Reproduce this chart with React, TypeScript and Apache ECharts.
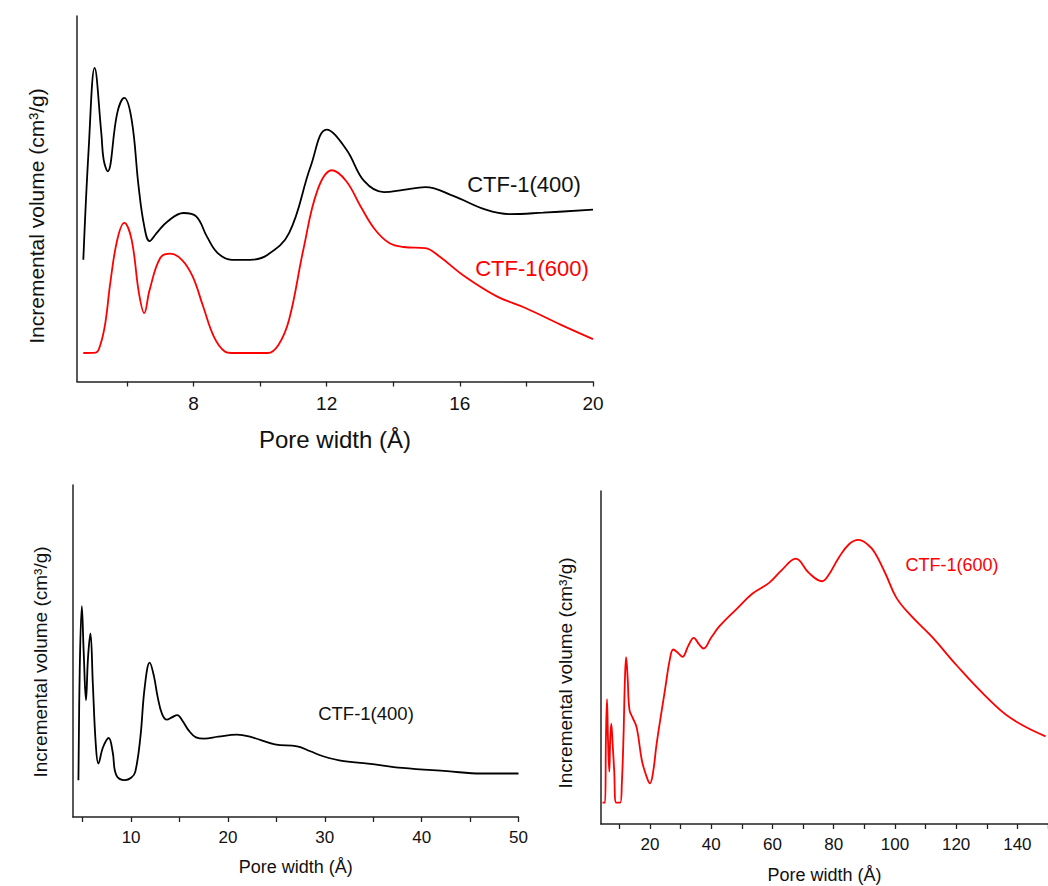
import React, { useEffect, useRef } from "react";
import * as echarts from "echarts";

// ---- Data (pore width in Å, incremental volume in arbitrary units 0-100) ----
const topCtf400: [number, number][] = [
  [4.69, 33.3], [4.85, 63.5], [5.03, 85.8], [5.23, 68], [5.3, 60.7], [5.42, 57.5],
  [5.71, 73.5], [5.92, 77.6], [6.14, 71.7], [6.35, 53.4], [6.52, 42.5], [6.68, 38.4],
  [6.89, 40.6], [7.22, 43.8], [7.7, 46.1], [8.08, 45.2], [8.4, 39.7], [8.72, 35.2],
  [9.15, 33.3], [9.7, 33.3], [10.23, 34.7], [10.87, 40.6], [11.52, 58.9], [12.0, 68.9],
  [12.59, 63.5], [13.13, 54.8], [13.72, 51.8], [14.3, 52.4], [14.96, 53.2], [15.82, 50.7],
  [16.78, 47.0], [17.48, 45.8], [18.5, 46.2], [20, 47.0],
];
const topCtf600: [number, number][] = [
  [4.69, 7.8], [5.06, 7.9], [5.2, 10], [5.35, 16], [5.5, 27], [5.71, 38.8],
  [5.92, 43.4], [6.14, 38.8], [6.36, 24.2], [6.52, 18.7], [6.68, 25], [7.0, 33.8],
  [7.3, 35.0], [7.65, 33.3], [7.97, 28.8], [8.29, 20.5], [8.61, 12.3], [8.94, 8.2],
  [9.15, 7.8], [10.23, 7.8], [10.55, 10], [10.87, 16.9], [11.3, 36.1], [11.73, 52.5],
  [12.16, 57.8], [12.59, 54.8], [13.02, 47.9], [13.45, 41.6], [13.88, 37.9], [14.31, 36.8],
  [14.96, 36.5], [15.39, 34.2], [16.14, 28.8], [17.11, 23.3], [17.97, 20.1], [19.04, 15.5],
  [20, 11.6],
];
const wideCtf400: [number, number][] = [
  [4.56, 11.1], [4.7, 45], [4.91, 63.5], [5.1, 50], [5.34, 35.2], [5.55, 48], [5.8, 55.3],
  [6.05, 40], [6.35, 22], [6.62, 16.1], [7.1, 21], [7.69, 23.8], [8.1, 19.5], [8.47, 12.6],
  [9.36, 11.1], [10.0, 11.8], [10.43, 13.6], [10.96, 24.1], [11.4, 39], [11.92, 46.5],
  [12.35, 42.5], [12.74, 36.2], [13.2, 31], [13.7, 29.3], [14.2, 30], [14.77, 30.7],
  [15.3, 29], [15.94, 26.1], [16.7, 24], [17.54, 23.6], [19, 24.2], [20.93, 24.8],
  [22.35, 24.1], [24.84, 21.9], [27.15, 21.3], [28.5, 19.8], [29.82, 18.3], [31.96, 16.8],
  [34.45, 16.1], [38.01, 14.8], [42.63, 13.8], [46.19, 13.1], [50, 13.1],
];
const wideCtf600: [number, number][] = [
  [4.5, 6.4], [5.3, 6.4], [5.6, 25], [5.95, 37.5], [6.3, 25], [6.7, 15.7], [7.0, 25],
  [7.35, 30.1], [7.8, 24], [8.3, 16.2], [8.97, 6.4], [10.27, 6.4], [10.8, 12], [11.35, 26.3],
  [11.8, 43], [12.2, 50.1], [12.7, 44], [13.3, 34.3], [14.4, 31.8], [15.7, 28.8], [17.3, 19.3],
  [18.6, 15], [20, 12.2], [21, 15.5], [22.2, 24.3], [24.9, 40.3], [26.5, 49.5], [27.6, 52.4],
  [29, 51.5], [30.6, 50.2], [32.5, 53.5], [34.3, 55.9], [36, 54], [37.5, 52.7], [40, 56],
  [42.7, 59.4], [48.1, 64.4], [53.5, 69.2], [58.9, 72.4], [63.2, 76.4], [67.6, 79.7],
  [71.9, 75.4], [76.2, 72.9], [78.5, 75], [81.6, 79.9], [85, 84], [88.1, 85.3], [91, 84],
  [93.5, 81.4], [97, 75], [100.5, 67.9], [105.4, 62.4], [111.9, 56.4], [120.5, 47.3],
  [129.2, 38.8], [137.8, 31.8], [149.2, 26.3],
];

const topLabels = [8, 12, 16, 20];
const topTicks = [6, 8, 10, 12, 14, 16, 18, 20];
const leftLabels = [10, 20, 30, 40, 50];
const leftTicks = [5, 10, 15, 20, 25, 30, 35, 40, 45, 50];
const rightLabels = [20, 40, 60, 80, 100, 120, 140];
const rightTicks = [10, 20, 30, 40, 50, 60, 70, 80, 90, 100, 110, 120, 130, 140, 150];

const xTitle = "Pore width (Å)";
const yTitle = "Incremental volume (cm³/g)";
const name400 = "CTF-1(400)";
const name600 = "CTF-1(600)";

const FONT = "'Liberation Sans', Arial, sans-serif";
const AXIS_COLOR = "#222";

function makeX(
  gridIndex: number, min: number, max: number, labels: number[], ticks: number[],
  fontSize: number, nameSize: number, nameGap: number
) {
  return {
    type: "value", gridIndex, min, max,
    name: xTitle, nameLocation: "middle", nameGap,
    nameTextStyle: { fontFamily: FONT, fontSize: nameSize, color: "#111" },
    axisLine: { show: true, lineStyle: { color: AXIS_COLOR, width: 1.5 } },
    axisTick: { show: true, length: 5, customValues: ticks, lineStyle: { color: AXIS_COLOR, width: 1.3 } },
    axisLabel: { customValues: labels, fontFamily: FONT, fontSize, color: "#111", margin: 12 },
    splitLine: { show: false },
  };
}

function makeY(gridIndex: number) {
  return {
    type: "value", gridIndex, min: 0, max: 100,
    axisLine: { show: true, lineStyle: { color: AXIS_COLOR, width: 1.5 } },
    axisTick: { show: false },
    axisLabel: { show: false },
    splitLine: { show: false },
  };
}

function lineSeries(data: [number, number][], idx: number, color: string) {
  return {
    type: "line", xAxisIndex: idx, yAxisIndex: idx, data,
    smooth: 0.4, showSymbol: false, symbol: "none",
    lineStyle: { color, width: 1.8 }, clip: true,
  };
}

function yTitleText(x: number, y: number, fontSize: number) {
  return {
    type: "text", x, y, rotation: Math.PI / 2,
    style: { text: yTitle, fontFamily: FONT, fontSize, fill: "#111", align: "center", verticalAlign: "middle" },
  };
}

export default function App() {
  const ref = useRef<HTMLDivElement>(null);
  useEffect(() => {
    if (!ref.current) return;
    const chart = echarts.init(ref.current, undefined, { renderer: "svg" });
    chart.setOption({
      animation: false,
      backgroundColor: "#ffffff",
      grid: [
        { left: 77, top: 16, width: 516, height: 365.5 },
        { left: 73, top: 485, width: 445.5, height: 332 },
        { left: 601, top: 491, width: 449.7, height: 333 },
      ],
      xAxis: [
        makeX(0, 4.5, 20, topLabels, topTicks, 19, 24, 46),
        makeX(1, 4, 50, leftLabels, leftTicks, 17, 18, 41),
        makeX(2, 4, 150, rightLabels, rightTicks, 17, 18, 42),
      ],
      yAxis: [makeY(0), makeY(1), makeY(2)],
      series: [
        lineSeries(topCtf400, 0, "#000000"),
        lineSeries(topCtf600, 0, "#ff0000"),
        lineSeries(wideCtf400, 1, "#000000"),
        lineSeries(wideCtf600, 2, "#ff0000"),
      ],
      graphic: [
        yTitleText(36, 216, 21),
        yTitleText(40, 662, 19),
        yTitleText(565, 673, 19),
        { type: "text", x: 524, y: 184, style: { text: name400, fontFamily: FONT, fontSize: 22, fill: "#111", align: "center", verticalAlign: "middle" } },
        { type: "text", x: 532, y: 268, style: { text: name600, fontFamily: FONT, fontSize: 22, fill: "#ff0000", align: "center", verticalAlign: "middle" } },
        { type: "text", x: 366, y: 713, style: { text: name400, fontFamily: FONT, fontSize: 18.5, fill: "#111", align: "center", verticalAlign: "middle" } },
        { type: "text", x: 952, y: 565, style: { text: name600, fontFamily: FONT, fontSize: 18, fill: "#ff0000", align: "center", verticalAlign: "middle" } },
      ],
    });
    return () => chart.dispose();
  }, []);
  return (
    <div
      ref={ref}
      style={{ position: "fixed", left: 0, top: 0, width: 1048, height: 886, background: "#fff" }}
    />
  );
}
